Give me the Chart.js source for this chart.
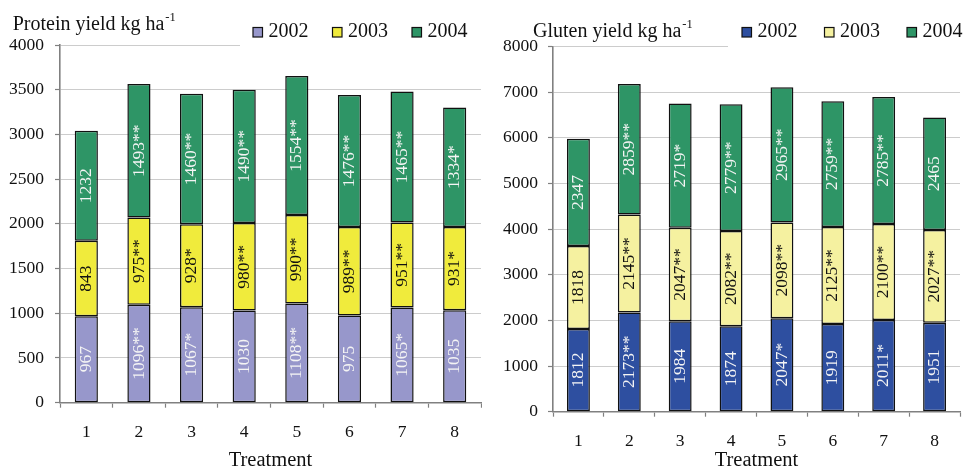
<!DOCTYPE html>
<html>
<head>
<meta charset="utf-8">
<script src="https://cdn.jsdelivr.net/npm/chart.js@4.4.1/dist/chart.umd.min.js"></script>
<style>
  html, body { margin: 0; padding: 0; background: #fff; }
  .box { position: absolute; top: 0; width: 482px; height: 469px; }
  #left { left: 0; }
  #right { left: 482px; }
</style>
</head>
<body>
<div class="box" id="left"><canvas id="protein"></canvas></div>
<div class="box" id="right"><canvas id="gluten"></canvas></div>
<script>
// data
const treatments = ['1', '2', '3', '4', '5', '6', '7', '8'];
const years = ['2002', '2003', '2004'];

const protein2002 = [967, 1096, 1067, 1030, 1108, 975, 1065, 1035];
const protein2003 = [843, 975, 928, 980, 990, 989, 951, 931];
const protein2004 = [1232, 1493, 1460, 1490, 1554, 1476, 1465, 1334];
const protein2002Sig = ['', '**', '*', '', '**', '', '*', ''];
const protein2003Sig = ['', '**', '*', '**', '**', '**', '**', '*'];
const protein2004Sig = ['', '**', '**', '**', '**', '**', '**', '*'];
const proteinTicks = [0, 500, 1000, 1500, 2000, 2500, 3000, 3500, 4000];

const gluten2002 = [1812, 2173, 1984, 1874, 2047, 1919, 2011, 1951];
const gluten2003 = [1818, 2145, 2047, 2082, 2098, 2125, 2100, 2027];
const gluten2004 = [2347, 2859, 2719, 2779, 2965, 2759, 2785, 2465];
const gluten2002Sig = ['', '**', '', '', '*', '', '*', ''];
const gluten2003Sig = ['', '**', '**', '**', '**', '**', '**', '**'];
const gluten2004Sig = ['', '**', '*', '**', '**', '**', '**', ''];
const glutenTicks = [0, 1000, 2000, 3000, 4000, 5000, 6000, 7000, 8000];

const FONT = '"Liberation Serif", "Times New Roman", serif';

// rotated value labels inside every segment
const barLabels = {
  id: 'barLabels',
  afterDatasetsDraw(chart) {
    const ctx = chart.ctx;
    ctx.save();
    ctx.font = '17.5px ' + FONT;
    ctx.textAlign = 'center';
    ctx.textBaseline = 'middle';
    chart.data.datasets.forEach((ds, i) => {
      const meta = chart.getDatasetMeta(i);
      ctx.fillStyle = ds.labelColor;
      meta.data.forEach((bar, j) => {
        const cy = (bar.y + bar.base) / 2;
        ctx.save();
        ctx.translate(bar.x, cy);
        ctx.rotate(-Math.PI / 2);
        ctx.fillText(ds.data[j] + ds.sig[j], 0, 0);
        ctx.restore();
      });
    });
    ctx.restore();
  }
};

// title with superscript + boxed legend
const header = {
  id: 'header',
  afterDraw(chart, args, o) {
    const ctx = chart.ctx;
    ctx.save();
    ctx.fillStyle = '#fff';
    ctx.fillRect(o.coverX, 6, chart.width - o.coverX, o.coverBottom - 6);

    ctx.fillStyle = '#111';
    ctx.textAlign = 'left';
    ctx.textBaseline = 'alphabetic';
    ctx.font = '20px ' + FONT;
    ctx.fillText(o.title, o.titleX, o.titleY);
    const w = ctx.measureText(o.title).width;
    ctx.font = '12.5px ' + FONT;
    ctx.fillText('-1', o.titleX + w + 1, o.titleY - 9);

    ctx.font = '20px ' + FONT;
    chart.data.datasets.forEach((ds, i) => {
      const x = o.legendX + i * o.legendGap;
      ctx.fillStyle = ds.backgroundColor;
      ctx.fillRect(x, o.legendY - 9.5, 9.5, 9.5);
      ctx.strokeStyle = '#111';
      ctx.lineWidth = 1.2;
      ctx.strokeRect(x, o.legendY - 9.5, 9.5, 9.5);
      ctx.fillStyle = '#111';
      ctx.fillText(ds.label, x + 15.5, o.legendY);
    });
    ctx.restore();
  }
};

function makeDataset(label, data, sig, fill, textColor) {
  return {
    label: label,
    data: data,
    sig: sig,
    labelColor: textColor,
    backgroundColor: fill,
    borderColor: '#111',
    borderWidth: 1.5,
    borderSkipped: false
  };
}

function makeChart(id, datasets, ticks, dims, head) {
  return new Chart(document.getElementById(id), {
    type: 'bar',
    data: { labels: treatments, datasets: datasets },
    plugins: [barLabels, header],
    options: {
      responsive: true,
      maintainAspectRatio: false,
      animation: false,
      barPercentage: dims.barPct,
      categoryPercentage: 1,
      layout: { padding: { top: dims.top, right: dims.right, left: 0, bottom: 0 } },
      plugins: {
        legend: { display: false },
        title: { display: false },
        tooltip: { enabled: false },
        header: head
      },
      scales: {
        x: {
          stacked: true,
          afterFit: (s) => { s.height = dims.xHeight; },
          grid: { drawOnChartArea: false, drawTicks: true, tickLength: 5, tickColor: '#808080', tickWidth: 1.2 },
          border: { color: '#808080', width: 1.6 },
          ticks: { color: '#111', padding: 14, font: { family: FONT, size: 17.5 } },
          title: {
            display: true,
            text: 'Treatment',
            color: '#111',
            padding: { top: 0, bottom: 0 },
            font: { family: FONT, size: 20.5, lineHeight: 0.85 }
          }
        },
        y: {
          stacked: true,
          min: ticks[0],
          max: ticks[ticks.length - 1],
          afterFit: (s) => { s.width = dims.yWidth; },
          afterBuildTicks: (s) => { s.ticks = ticks.map(v => ({ value: v })); },
          grid: { color: '#cccccc', lineWidth: 1, tickLength: 5, tickColor: '#808080', tickWidth: 1.2 },
          border: { color: '#808080', width: 1.6 },
          ticks: {
            color: '#111',
            padding: dims.yPad,
            font: { family: FONT, size: 17.5 },
            callback: (v) => String(v)
          }
        }
      }
    }
  });
}

makeChart('protein', [
  makeDataset(years[0], protein2002, protein2002Sig, '#9797CB', '#f4f4f4'),
  makeDataset(years[1], protein2003, protein2003Sig, '#F0EB3C', '#111'),
  makeDataset(years[2], protein2004, protein2004Sig, '#2E9566', '#f4f4f4')
], proteinTicks,
  { top: 45, right: 1, xHeight: 66.3, yWidth: 60, yPad: 11, barPct: 0.44 },
  { title: 'Protein yield kg ha', titleX: 12.7, titleY: 29.5, legendX: 253, legendGap: 79.5, legendY: 37, coverX: 240, coverBottom: 48 });

makeChart('gluten', [
  makeDataset(years[0], gluten2002, gluten2002Sig, '#2E4FA0', '#f4f4f4'),
  makeDataset(years[1], gluten2003, gluten2003Sig, '#F5F1A0', '#111'),
  makeDataset(years[2], gluten2004, gluten2004Sig, '#2E9566', '#f4f4f4')
], glutenTicks,
  { top: 46.5, right: 4, xHeight: 57.3, yWidth: 71, yPad: 10, barPct: 0.45 },
  { title: 'Gluten yield kg ha', titleX: 51, titleY: 37, legendX: 260, legendGap: 82.5, legendY: 37, coverX: 246, coverBottom: 49 });
</script>
</body>
</html>
